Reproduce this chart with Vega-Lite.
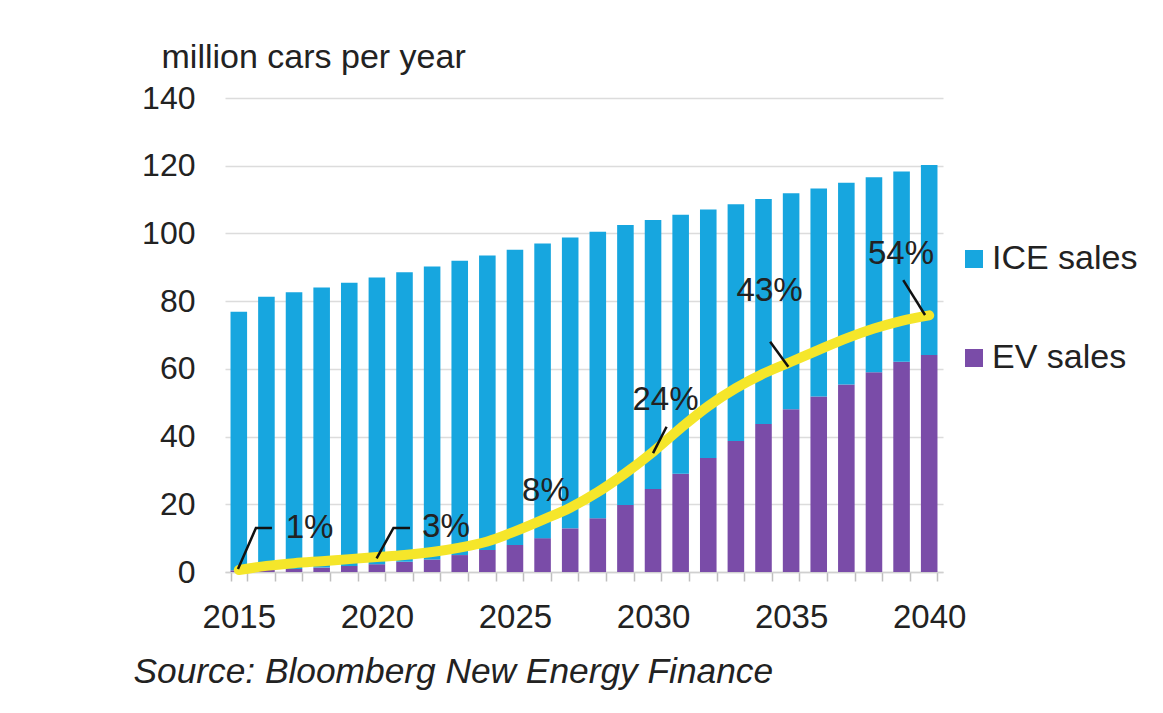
{
  "$schema": "https://vega.github.io/schema/vega-lite/v6.json",
  "width": 718,
  "height": 474,
  "autosize": {"type": "none"},
  "padding": {"left": 225, "top": 98, "right": 220, "bottom": 141},
  "background": "white",
  "config": {
    "font": "Liberation Sans",
    "view": {"stroke": null}
  },
  "datasets": {
    "sales": [
      {"year": 2015, "EV sales": 0.5, "ICE sales": 76.4},
      {"year": 2016, "EV sales": 0.6, "ICE sales": 80.7},
      {"year": 2017, "EV sales": 0.9, "ICE sales": 81.7},
      {"year": 2018, "EV sales": 1.3, "ICE sales": 82.7},
      {"year": 2019, "EV sales": 1.8, "ICE sales": 83.6},
      {"year": 2020, "EV sales": 2.3, "ICE sales": 84.7},
      {"year": 2021, "EV sales": 3.0, "ICE sales": 85.5},
      {"year": 2022, "EV sales": 3.7, "ICE sales": 86.5},
      {"year": 2023, "EV sales": 5.0, "ICE sales": 86.9},
      {"year": 2024, "EV sales": 6.5, "ICE sales": 87.0},
      {"year": 2025, "EV sales": 8.0, "ICE sales": 87.2},
      {"year": 2026, "EV sales": 10.0, "ICE sales": 87.0},
      {"year": 2027, "EV sales": 12.9, "ICE sales": 85.9},
      {"year": 2028, "EV sales": 15.9, "ICE sales": 84.6},
      {"year": 2029, "EV sales": 19.8, "ICE sales": 82.7},
      {"year": 2030, "EV sales": 24.5, "ICE sales": 79.5},
      {"year": 2031, "EV sales": 29.0, "ICE sales": 76.5},
      {"year": 2032, "EV sales": 33.7, "ICE sales": 73.4},
      {"year": 2033, "EV sales": 38.7, "ICE sales": 69.9},
      {"year": 2034, "EV sales": 43.7, "ICE sales": 66.5},
      {"year": 2035, "EV sales": 48.1, "ICE sales": 63.8},
      {"year": 2036, "EV sales": 51.8, "ICE sales": 61.5},
      {"year": 2037, "EV sales": 55.4, "ICE sales": 59.6},
      {"year": 2038, "EV sales": 59.0, "ICE sales": 57.6},
      {"year": 2039, "EV sales": 62.1, "ICE sales": 56.2},
      {"year": 2040, "EV sales": 64.1, "ICE sales": 56.1}
    ],
    "curve": [
      {"yr": 2015, "v": 0.6}, {"yr": 2016, "v": 1.8}, {"yr": 2017, "v": 2.6},
      {"yr": 2018, "v": 3.2}, {"yr": 2019, "v": 3.8}, {"yr": 2020, "v": 4.4},
      {"yr": 2021, "v": 5.0}, {"yr": 2022, "v": 5.9}, {"yr": 2023, "v": 7.2},
      {"yr": 2024, "v": 9.0}, {"yr": 2025, "v": 12.0}, {"yr": 2026, "v": 15.4},
      {"yr": 2027, "v": 19.0}, {"yr": 2028, "v": 23.6}, {"yr": 2029, "v": 29.2},
      {"yr": 2030, "v": 35.5}, {"yr": 2031, "v": 42.5}, {"yr": 2032, "v": 49.0},
      {"yr": 2033, "v": 54.3}, {"yr": 2034, "v": 58.6}, {"yr": 2035, "v": 62.1},
      {"yr": 2036, "v": 65.6}, {"yr": 2037, "v": 69.0}, {"yr": 2038, "v": 71.9},
      {"yr": 2039, "v": 74.2}, {"yr": 2040, "v": 75.8}
    ],
    "leaders": [
      {"id": "1%", "o": 0, "lx": 2014.97, "ly": 0.9},
      {"id": "1%", "o": 1, "lx": 2015.62, "ly": 13.0},
      {"id": "1%", "o": 2, "lx": 2016.2, "ly": 13.0},
      {"id": "3%", "o": 0, "lx": 2019.99, "ly": 4.05},
      {"id": "3%", "o": 1, "lx": 2020.6, "ly": 13.0},
      {"id": "3%", "o": 2, "lx": 2021.2, "ly": 13.0},
      {"id": "24%", "o": 0, "lx": 2030.49, "ly": 42.9},
      {"id": "24%", "o": 1, "lx": 2030.0, "ly": 35.1},
      {"id": "43%", "o": 0, "lx": 2034.24, "ly": 68.0},
      {"id": "43%", "o": 1, "lx": 2034.9, "ly": 60.6},
      {"id": "54%", "o": 0, "lx": 2039.06, "ly": 86.2},
      {"id": "54%", "o": 1, "lx": 2039.85, "ly": 75.9}
    ],
    "labels": [
      {"t": "1%", "tx": 2017.56, "ty": 13.0},
      {"t": "3%", "tx": 2022.5, "ty": 13.3},
      {"t": "8%", "tx": 2026.12, "ty": 23.9},
      {"t": "24%", "tx": 2030.45, "ty": 50.8},
      {"t": "43%", "tx": 2034.22, "ty": 83.0},
      {"t": "54%", "tx": 2038.98, "ty": 93.9}
    ]
  },
  "resolve": {"scale": {"x": "independent"}, "axis": {"x": "independent"}},
  "layer": [
    {
      "data": {"name": "sales"},
      "transform": [{"fold": ["EV sales", "ICE sales"], "as": ["series", "value"]}],
      "mark": {"type": "bar"},
      "encoding": {
        "x": {
          "field": "year",
          "type": "ordinal",
          "scale": {"paddingInner": 0.4, "paddingOuter": 0.2},
          "axis": {
            "tickBand": "extent",
            "labelExpr": "datum.value % 5 == 0 ? datum.value : ''",
            "labelAngle": 0,
            "labelOverlap": false,
            "labelFontSize": 33,
            "labelColor": "#222222",
            "labelBaseline": "alphabetic",
            "labelPadding": 46,
            "tickSize": 9,
            "tickColor": "#bfbfbf",
            "tickWidth": 1.5,
            "domainColor": "#d0d0d0",
            "domainWidth": 1.5,
            "grid": false,
            "title": "Source: Bloomberg New Energy Finance",
            "titleFontSize": 35.3,
            "titleFontStyle": "italic",
            "titleFontWeight": "normal",
            "titleColor": "#222222",
            "titleAlign": "left",
            "titleAnchor": null,
            "titleBaseline": "alphabetic",
            "titleX": -92,
            "titleY": 110
          }
        },
        "y": {
          "field": "value",
          "type": "quantitative",
          "stack": "zero",
          "scale": {"domain": [0, 140], "nice": false},
          "axis": {
            "values": [0, 20, 40, 60, 80, 100, 120, 140],
            "ticks": false,
            "domain": false,
            "labelFontSize": 32,
            "labelColor": "#222222",
            "labelPadding": 30,
            "gridColor": "#dcdcdc",
            "gridWidth": 1.5,
            "title": "million cars per year",
            "titleAngle": 0,
            "titleFontSize": 34,
            "titleFontWeight": "normal",
            "titleColor": "#222222",
            "titleAlign": "left",
            "titleAnchor": null,
            "titleBaseline": "alphabetic",
            "titleX": -64,
            "titleY": -31
          }
        },
        "color": {
          "field": "series",
          "type": "nominal",
          "scale": {"domain": ["ICE sales", "EV sales"], "range": ["#17a6df", "#7a4ca8"]},
          "legend": {
            "orient": "none",
            "legendX": 732,
            "legendY": 144,
            "title": null,
            "padding": 0,
            "symbolType": "square",
            "symbolSize": 324,
            "symbolStrokeWidth": 0,
            "labelFontSize": 34,
            "labelColor": "#222222",
            "labelOffset": 1,
            "rowPadding": 65,
            "labelLimit": 300
          }
        },
        "order": {"field": "series", "sort": "ascending"}
      }
    },
    {
      "layer": [
        {
          "data": {"name": "curve"},
          "mark": {"type": "line", "color": "#f5e62a", "strokeWidth": 10, "interpolate": "monotone", "strokeCap": "round"},
          "encoding": {
            "x": {"field": "yr", "type": "quantitative", "scale": {"domain": [2014.5, 2040.5], "nice": false, "zero": false}, "axis": null},
            "y": {"field": "v", "type": "quantitative"}
          }
        },
        {
          "data": {"name": "leaders"},
          "mark": {"type": "line", "color": "#111111", "strokeWidth": 2.5},
          "encoding": {
            "x": {"field": "lx", "type": "quantitative", "axis": null},
            "y": {"field": "ly", "type": "quantitative"},
            "detail": {"field": "id"},
            "order": {"field": "o"}
          }
        },
        {
          "data": {"name": "labels"},
          "mark": {"type": "text", "fontSize": 33, "color": "#222222", "baseline": "middle", "align": "center"},
          "encoding": {
            "x": {"field": "tx", "type": "quantitative", "axis": null},
            "y": {"field": "ty", "type": "quantitative"},
            "text": {"field": "t"}
          }
        }
      ]
    }
  ]
}
